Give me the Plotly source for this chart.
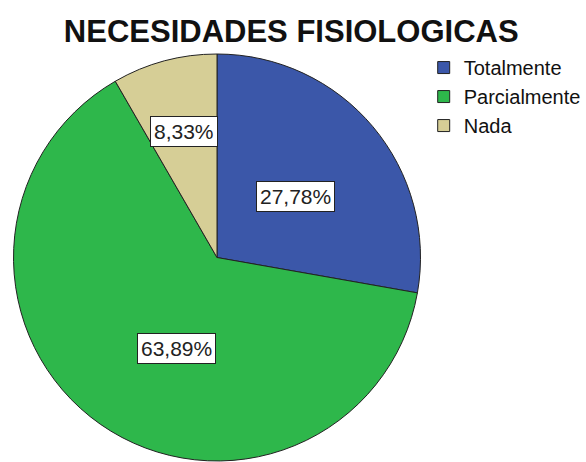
import math
import plotly.graph_objects as go

labels = ['Totalmente', 'Parcialmente', 'Nada']
values = [27.78, 63.89, 8.33]
text_labels = ['27,78%', '63,89%', '8,33%']
colors = ['#3b57a9', '#2eb74b', '#d6ce96']

# box placement: fraction of radius, and angle nudge (deg) from the slice's mid angle
label_r = [0.49, 0.49, 0.64]
label_nudge = [2, -11, 0]

dom_x = [12 / 586, 425 / 586]
dom_y = [1 / 462, 408 / 462]

fig = go.Figure(go.Pie(
    labels=labels, values=values, sort=False, direction='clockwise', rotation=0,
    marker=dict(colors=colors, line=dict(color='#222222', width=1)),
    textinfo='none', hoverinfo='label+percent',
    domain=dict(x=dom_x, y=dom_y),
))

# label boxes placed at each slice's mid angle
W, H = 586, 462
cx = (dom_x[0] + dom_x[1]) / 2 * W
cy = (1 - (dom_y[0] + dom_y[1]) / 2) * H
R = min((dom_x[1] - dom_x[0]) * W, (dom_y[1] - dom_y[0]) * H) / 2
total = sum(values)
start = 0
for v, t, r, nudge in zip(values, text_labels, label_r, label_nudge):
    mid = (start + v / 2) / total * 2 * math.pi + math.radians(nudge)
    start += v
    px = cx + r * R * math.sin(mid)
    py = cy - r * R * math.cos(mid)
    fig.add_annotation(x=px / W, y=1 - py / H, xref='paper', yref='paper', text=t,
                       xanchor='center', yanchor='middle',
                       showarrow=False, bgcolor='white', bordercolor='#222222', borderwidth=1,
                       borderpad=3, font=dict(family='Liberation Sans, Arial', size=21, color='#222222'))

fig.update_layout(
    width=W, height=H, margin=dict(l=0, r=0, t=0, b=0),
    paper_bgcolor='white', plot_bgcolor='white',
    title=dict(text='<b>NECESIDADES FISIOLOGICAS</b>', x=0.497, xanchor='center', y=0.933, yanchor='middle',
               font=dict(family='Liberation Sans, Arial', size=31, color='#111111')),
    legend=dict(x=0.728, y=0.896, xanchor='left', yanchor='top',
                font=dict(family='Liberation Sans, Arial', size=20, color='#111111'),
                itemwidth=30, tracegroupgap=0),
)
fig.write_html('out.html', config={'displayModeBar': False},
               post_script="document.body.style.margin='0';")
